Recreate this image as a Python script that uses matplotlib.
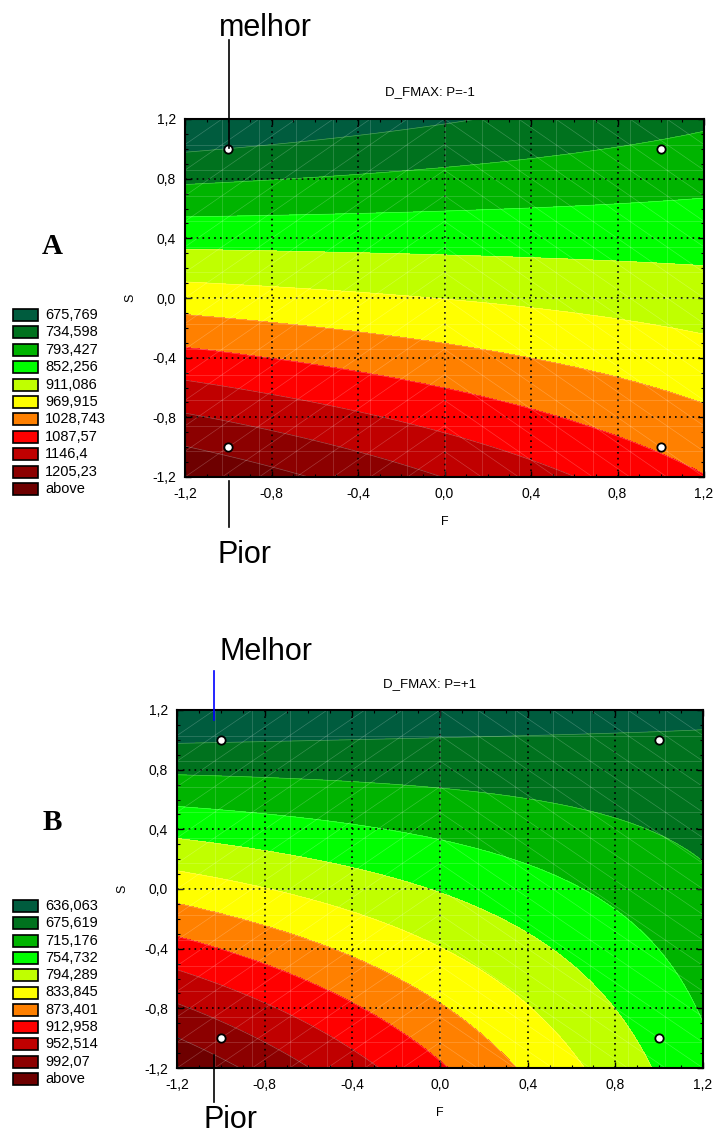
import numpy as np
import matplotlib
matplotlib.use("Agg")
import matplotlib.pyplot as plt
from matplotlib.collections import LineCollection
from matplotlib.patches import Rectangle
from matplotlib.lines import Line2D
from matplotlib.ticker import MultipleLocator, FuncFormatter

plt.rcParams['font.family'] = ['Liberation Sans', 'DejaVu Sans']

W, H = 714, 1144

# contour levels shown in each legend (upper bound of each band)
levels_a = [675.769, 734.598, 793.427, 852.256, 911.086, 969.915, 1028.743, 1087.57, 1146.4, 1205.23]
levels_b = [636.063, 675.619, 715.176, 754.732, 794.289, 833.845, 873.401, 912.958, 952.514, 992.07]
band_colors = ['#005c3e', '#00721e', '#00b400', '#00ff00', '#c0ff00', '#ffff00',
               '#ff8000', '#ff0000', '#c00000', '#8c0000', '#6e0000']

# quadratic response surface: b0, F, S, F*S, F^2, S^2
coef_a = [909.71, -25.01, -198.43, 58.59, 0.27, -1.82]
coef_b = [752.04, -55.57, -110.13, 58.80, -1.57, -4.19]

# factorial design points
design_f = [-1, 1, -1, 1]
design_s = [1, 1, -1, -1]


def fx(x, y):
    return x / W, 1 - y / H


def comma(v, pos):
    return f"{v:.1f}".replace('.', ',').replace('-0,0', '0,0')


def draw_panel(rect, coef, levels, title, title_xy):
    ax = fig.add_axes(rect)
    g = np.linspace(-1.2, 1.2, 241)
    F, S = np.meshgrid(g, g)
    Z = coef[0] + coef[1] * F + coef[2] * S + coef[3] * F * S + coef[4] * F ** 2 + coef[5] * S ** 2
    bounds = [-1e6] + list(levels) + [1e6]
    ax.contourf(F, S, Z, levels=bounds, colors=band_colors)
    ax.contour(F, S, Z, levels=levels, colors='white', linewidths=0.5, alpha=0.3)

    # faint triangulation mesh
    m = np.linspace(-1.2, 1.2, 15)
    segs = [[(v, -1.2), (v, 1.2)] for v in m] + [[(-1.2, v), (1.2, v)] for v in m]
    for i in range(14):
        for j in range(14):
            x0, x1, y0, y1 = m[i], m[i + 1], m[j], m[j + 1]
            if x1 <= 0.001:
                segs.append([(x0, y0), (x1, y1)])
            else:
                segs.append([(x0, y1), (x1, y0)])
    ax.add_collection(LineCollection(segs, colors='white', linewidths=0.5, alpha=0.22))

    ax.plot(design_f, design_s, 'o', ms=6, mfc='white', mec='black', mew=1.3, zorder=5)

    ax.set_xlim(-1.2, 1.2)
    ax.set_ylim(-1.2, 1.2)
    ax.xaxis.set_major_locator(MultipleLocator(0.4))
    ax.yaxis.set_major_locator(MultipleLocator(0.4))
    ax.xaxis.set_minor_locator(MultipleLocator(0.1))
    ax.yaxis.set_minor_locator(MultipleLocator(0.1))
    ax.xaxis.set_major_formatter(FuncFormatter(comma))
    ax.yaxis.set_major_formatter(FuncFormatter(comma))
    ax.tick_params(which='both', direction='in', top=True, right=True, labelsize=10, color='black')
    ax.tick_params(axis='x', which='major', pad=7)
    ax.tick_params(axis='y', which='major', pad=6.5)
    ax.tick_params(which='major', length=4, width=1)
    ax.tick_params(which='minor', length=2.5, width=0.8)
    ax.grid(True, which='major', color='black', linestyle=(0, (1, 2.5)), linewidth=1.2)
    for sp in ax.spines.values():
        sp.set_linewidth(1.5)
    ax.set_xlabel('F', fontsize=9, labelpad=11)
    ax.set_ylabel('S', fontsize=9, labelpad=11)
    fig.text(*fx(*title_xy), title, fontsize=9.5, ha='center', va='center')
    return ax


def draw_legend(y0, dy, levels):
    labels = [str(v).replace('.', ',') for v in levels] + ['above']
    for i, (c, lab) in enumerate(zip(band_colors, labels)):
        yc = y0 + i * dy
        x, y = fx(13, yc + 6)
        fig.add_artist(Rectangle((x, y), 25 / W, 12 / H, transform=fig.transFigure,
                                 facecolor=c, edgecolor='black', linewidth=1.2))
        tx, ty = fx(45, yc)
        fig.text(tx, ty, lab, fontsize=10.5, va='center', ha='left')


def draw_marker(x, y0, y1, color='black'):
    a, b = fx(x, y0)
    c, d = fx(x, y1)
    fig.add_artist(Line2D([a, c], [b, d], transform=fig.transFigure, color=color, linewidth=1.2))


fig = plt.figure(figsize=(W / 100, H / 100), dpi=100)

draw_panel([185 / W, 1 - 477 / H, 519 / W, 358 / H], coef_a, levels_a, 'D_FMAX: P=-1', (430, 92))
draw_panel([177 / W, 1 - 1068 / H, 526 / W, 358 / H], coef_b, levels_b, 'D_FMAX: P=+1', (430, 684))

draw_legend(315, 17.4, levels_a)
draw_legend(906, 17.3, levels_b)

fig.text(*fx(52, 247), 'A', fontsize=21, fontweight='bold', family='Liberation Serif', ha='center', va='center')
fig.text(*fx(52, 822), 'B', fontsize=21, fontweight='bold', family='Liberation Serif', ha='center', va='center')

fig.text(*fx(265, 28), 'melhor', fontsize=22, ha='center', va='center')
draw_marker(229, 40, 148)
fig.text(*fx(245, 555), 'Pior', fontsize=22, ha='center', va='center')
draw_marker(229, 481, 527)

fig.text(*fx(266, 652), 'Melhor', fontsize=22, ha='center', va='center')
draw_marker(214, 671, 720, color='blue')
fig.text(*fx(230, 1120), 'Pior', fontsize=22, ha='center', va='center')
draw_marker(214, 1055, 1102)

fig.savefig('out.png', dpi=100)
